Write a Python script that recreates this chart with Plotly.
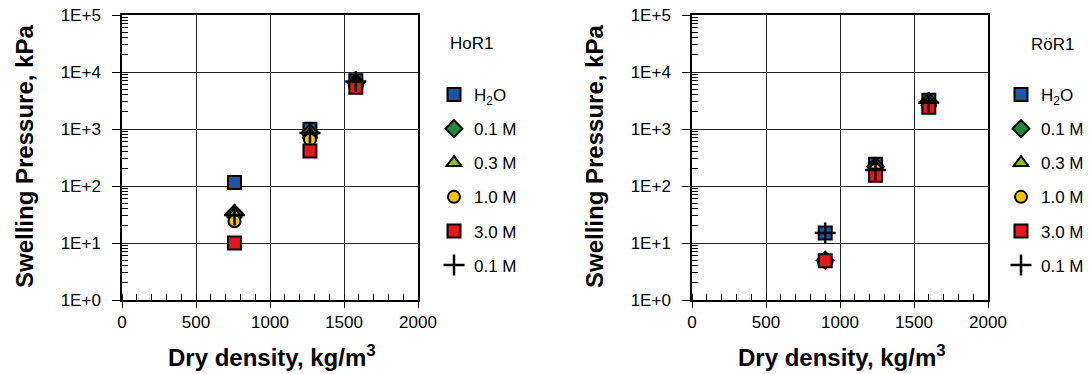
import plotly.graph_objects as go

# ---------------- data ----------------
series_names = ["H<sub>2</sub>O", "0.1 M", "0.3 M", "1.0 M", "3.0 M", "0.1 M"]

density_hor = [760, 1270, 1580]
hor_h2o = [115, 990, 7000]
hor_01 = [33, 850, 6500]
hor_03 = [32, 800, 6400]
hor_10 = [24, 650, 6000]
hor_30 = [10, 410, 5400]
hor_01b = [31, 850, 6800]

density_ror = [900, 1240, 1600]
ror_h2o = [15, 240, 3200]
ror_01 = [5, 220, 3000]
ror_03 = [5, 215, 2900]
ror_10 = [5, 190, 2700]
ror_30 = [4.9, 155, 2400]
ror_01b = [15, 190, 2900]

y_tickvals = [1, 10, 100, 1000, 10000, 100000]
y_ticktext = ["1E+0", "1E+1", "1E+2", "1E+3", "1E+4", "1E+5"]
x_tickvals = [0, 500, 1000, 1500, 2000]

# ---------------- styles ----------------
styles = [
    dict(symbol="square", size=13, color="#1a58a6", line=dict(color="black", width=2)),
    dict(symbol="diamond", size=13, color="#1e8a3c", line=dict(color="black", width=2)),
    dict(symbol="triangle-up", size=13, color="#8dbb3a", line=dict(color="black", width=2)),
    dict(symbol="circle", size=12, color="#f6c400", line=dict(color="black", width=2)),
    dict(symbol="square", size=13, color="#e3191c", line=dict(color="black", width=2)),
    dict(symbol="cross-thin", size=15, color="black", line=dict(color="black", width=2.5)),
]

FONT = "Arial, Liberation Sans, sans-serif"

fig = go.Figure()

hor_series = [hor_h2o, hor_01, hor_03, hor_10, hor_30, hor_01b]
ror_series = [ror_h2o, ror_01, ror_03, ror_10, ror_30, ror_01b]

for i, (name, ys) in enumerate(zip(series_names, hor_series)):
    fig.add_trace(go.Scatter(x=density_hor, y=ys, mode="markers", name=name,
                             marker=styles[i], xaxis="x", yaxis="y",
                             legend="legend", legendgroup=f"h{i}"))
for i, (name, ys) in enumerate(zip(series_names, ror_series)):
    fig.add_trace(go.Scatter(x=density_ror, y=ys, mode="markers", name=name,
                             marker=styles[i], xaxis="x2", yaxis="y2",
                             legend="legend2", legendgroup=f"r{i}"))

OFF = 8  # page body margin
W, H = 1091, 374


def px_x(p):
    return (p - OFF) / W


def px_y(p):
    return 1 - (p - OFF) / H


minor_y = [k * 10 ** n for n in range(0, 5) for k in range(2, 10)]

xaxis_common = dict(
    range=[0, 2000], tickvals=x_tickvals, ticks="outside", ticklen=6,
    tickcolor="black", tickwidth=1, showline=True, linecolor="black", linewidth=1.5,
    mirror=True, showgrid=True, gridcolor="#222", gridwidth=1, zeroline=False,
    tickfont=dict(family=FONT, size=17, color="black"), automargin=False,
    ticklabeloverflow="allow",
    minor=dict(ticks="inside", dtick=100, ticklen=6, tickcolor="black", showgrid=False),
    fixedrange=True,
)
yaxis_common = dict(
    type="log", range=[0, 5], tickvals=y_tickvals, ticktext=y_ticktext,
    ticks="outside", ticklen=8, tickcolor="black", showline=True, linecolor="black",
    linewidth=1.5, mirror=True, showgrid=True, gridcolor="#222", gridwidth=1,
    tickfont=dict(family=FONT, size=17, color="black"), ticklabelstandoff=8,
    automargin=False, ticklabeloverflow="allow",
    minor=dict(ticks="inside", tickvals=minor_y, ticklen=6, tickcolor="black", showgrid=False),
    fixedrange=True,
)

legend_common = dict(xanchor="left", yanchor="top",
                     font=dict(family=FONT, size=17, color="black"),
                     bgcolor="rgba(0,0,0,0)", tracegroupgap=9, itemwidth=30)

fig.update_layout(
    width=W, height=H, margin=dict(l=0, r=0, t=0, b=0, autoexpand=False),
    paper_bgcolor="white", plot_bgcolor="white",
    font=dict(family=FONT, color="black"),
    xaxis=dict(domain=[px_x(122), px_x(418)], anchor="y", **xaxis_common),
    yaxis=dict(domain=[px_y(300), px_y(15)], anchor="x", **yaxis_common),
    xaxis2=dict(domain=[px_x(692), px_x(988)], anchor="y2", **xaxis_common),
    yaxis2=dict(domain=[px_y(300), px_y(15)], anchor="x2", **yaxis_common),
    legend=dict(x=px_x(434), y=px_y(77), **legend_common),
    legend2=dict(x=px_x(1001), y=px_y(77), **legend_common),
    showlegend=True,
)


def ann(text, x, y, size, bold=False, angle=0):
    return dict(text=f"<b>{text}</b>" if bold else text, x=px_x(x), y=px_y(y),
                xref="paper", yref="paper", xanchor="center", yanchor="middle",
                showarrow=False, textangle=angle,
                font=dict(family=FONT, size=size, color="black"))


annotations = [
    ann("HoR1", 471, 43, 17),
    ann("RöR1", 1052, 45, 17),
    ann("Dry density, kg/m<sup>3</sup>", 272, 356, 24, bold=True),
    ann("Dry density, kg/m<sup>3</sup>", 842, 356, 24, bold=True),
    ann("Swelling Pressure, kPa", 24, 157, 24, bold=True, angle=-90),
    ann("Swelling Pressure, kPa", 594, 157, 24, bold=True, angle=-90),
]
fig.update_layout(annotations=annotations)

fig.write_html("out.html")
